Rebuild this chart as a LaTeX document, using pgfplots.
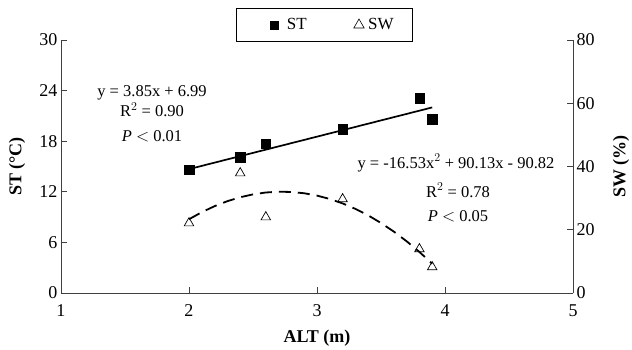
\documentclass[border=0pt]{standalone}
\usepackage{pgfplots}
\pgfplotsset{compat=1.18}
\usepackage{fontspec}
\setmainfont{Liberation Serif}
\begin{document}
\begin{tikzpicture}[font=\fontsize{16.5}{19}\selectfont]
\pgfplotsset{
  base/.style={
    scale only axis, width=512pt, height=253pt,
    xmin=1, xmax=5,
    tick align=inside, major tick length=6pt,
    /pgf/number format/assume math mode=true,
    tick label style={font=\fontsize{18}{20}\selectfont},
    label style={font=\fontsize{18}{20}\selectfont\bfseries},
    axis line style={black!75, line width=0.9pt},
    tick style={black!75, line width=0.9pt},
    clip=false,
  }
}
\begin{axis}[base,
  ymin=0, ymax=30, ytick={0,6,...,30}, xtick={1,2,3,4,5},
  axis x line*=bottom, axis y line*=left,
  xlabel={ALT (m)}, ylabel={ST (°C)},
  xlabel style={at={(axis description cs:0.5,-0.18)}, anchor=center},
  ylabel style={at={(axis description cs:-0.086,0.5)}, anchor=center, rotate=0},
  xticklabel style={yshift=-8pt},
  legend style={at={(0.5146,1.0593)}, anchor=center, legend columns=2,
    draw=black, line width=0.6pt, inner xsep=17pt, inner ysep=8pt,
    font=\fontsize{17}{19}\selectfont,
    /tikz/every odd column/.append style={column sep=2pt},
    /tikz/every even column/.append style={column sep=45pt}},
]
\addlegendimage{only marks, mark=square*, mark size=3.9pt, black,
  legend image code/.code={\path (-12pt,0) (0.6cm,0); \draw[##1] plot coordinates {(0.3cm,0cm)};}}
\addlegendentry{ST}
\addlegendimage{only marks, mark=triangle, mark size=6pt, black, mark options={line width=0.6pt}}
\addlegendentry{SW}
\addplot[only marks, mark=square*, mark size=4.7pt, black, forget plot] coordinates {
(2.0,14.6) (2.4,16.1) (2.6,17.7) (3.2,19.4) (3.8,23.1) (3.9,20.6)};
\addplot[black, line width=1.7pt, forget plot] coordinates {(2.0,14.69) (3.9,22.005)};
\node[anchor=base] at (axis cs:1.711,23.3) {y = 3.85x + 6.99};
\node[anchor=base] at (axis cs:1.711,20.95) {R$^{2}$ = 0.90};
\node[anchor=base] at (axis cs:1.711,18.0) {\textit{P} $<$ 0.01};
\node[anchor=base] at (axis cs:4.086,14.82) {y = -16.53x$^{2}$ + 90.13x - 90.82};
\node[anchor=base] at (axis cs:4.102,11.38) {R$^{2}$ = 0.78};
\node[anchor=base] at (axis cs:4.102,8.42) {\textit{P} $<$ 0.05};
\end{axis}
\begin{axis}[base,
  ymin=0, ymax=80, ytick={0,20,...,80},
  axis y line*=right, axis x line=none,
  ylabel={SW (\%)},
  ylabel style={at={(axis description cs:1.094,0.5)}, anchor=center, rotate=0},
]
\addplot[only marks, mark=triangle, mark size=5.5pt, black, mark options={line width=0.7pt}] coordinates {
(2.0,22.1) (2.4,37.9) (2.6,24.0) (3.2,29.7) (3.8,13.9) (3.9,8.2)};
\addplot[black, line width=1.8pt, dash pattern=on 12pt off 7pt] coordinates {
(2.0,23.32) (2.1,25.56) (2.2,27.46) (2.3,29.04) (2.4,30.28) (2.5,31.19)
(2.6,31.78) (2.7,32.03) (2.8,31.95) (2.9,31.54) (3.0,30.80) (3.1,29.73)
(3.2,28.33) (3.3,26.60) (3.4,24.54) (3.5,22.14) (3.6,19.42) (3.7,16.37)
(3.8,12.98) (3.9,9.27)};
\end{axis}
\pgfresetboundingbox
\path (-61pt,-56pt) rectangle (571pt,293pt);
\end{tikzpicture}
\end{document}
